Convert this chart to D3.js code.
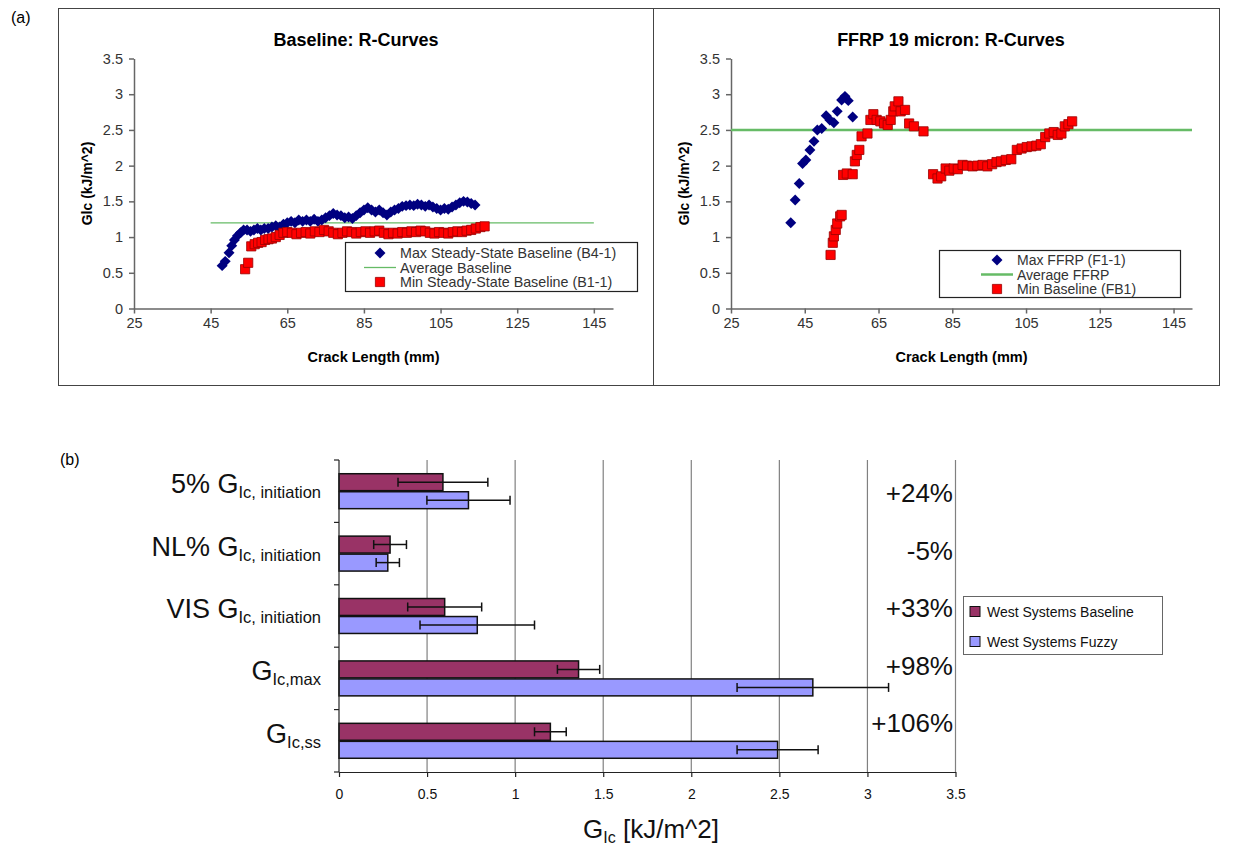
<!DOCTYPE html>
<html>
<head>
<meta charset="utf-8">
<script src="https://cdn.jsdelivr.net/npm/d3@7"></script>
<style>
  body { margin: 0; background: #fff; }
  svg text { font-family: Arial, "Liberation Sans", sans-serif; }
</style>
</head>
<body>
<div id="chart"></div>
<script>
// ---- (a) R-curve data: [crack length mm, GIc kJ/m^2] ----
const baseMax = [
  [48.0,0.60],[48.8,0.66],[49.8,0.78],[50.5,0.88],[51.2,0.96],[52.0,1.02],[52.8,1.06],[53.6,1.10],
  [54.5,1.10],[55.4,1.08],[56.3,1.10],[57.2,1.12],[58.1,1.10],[59.0,1.12],[60.0,1.12],[61.0,1.14],
  [62.0,1.16],[63.0,1.14],[64.0,1.18],[65.0,1.20],[66.0,1.22],[67.0,1.20],[68.0,1.24],[69.0,1.22],
  [70.0,1.24],[71.0,1.22],[72.0,1.25],[73.0,1.22],[74.0,1.24],[75.0,1.27],[76.0,1.30],[77.0,1.33],
  [78.0,1.31],[79.0,1.30],[80.0,1.27],[81.0,1.28],[82.0,1.26],[83.0,1.30],[84.0,1.34],[85.0,1.38],
  [86.0,1.41],[87.0,1.38],[88.0,1.35],[89.0,1.38],[90.0,1.34],[91.0,1.31],[92.0,1.35],[93.0,1.38],
  [94.0,1.40],[95.0,1.43],[96.0,1.44],[97.0,1.45],[98.0,1.44],[99.0,1.46],[100.0,1.45],[101.0,1.43],
  [102.0,1.45],[103.0,1.42],[104.0,1.40],[105.0,1.38],[106.0,1.40],[107.0,1.39],[108.0,1.42],
  [109.0,1.45],[110.0,1.48],[111.0,1.50],[112.0,1.49],[113.0,1.47],[114.0,1.45]
];
const baseMin = [
  [54.0,0.55],[54.8,0.64],[55.6,0.87],[56.5,0.90],[57.4,0.92],[58.3,0.93],[59.2,0.96],[60.1,0.97],
  [61.0,0.98],[62.0,1.00],[63.0,1.03],[64.0,1.06],[65.0,1.07],[66.2,1.06],[67.4,1.04],[68.6,1.06],
  [69.8,1.07],[71.0,1.05],[72.2,1.08],[73.4,1.07],[74.6,1.10],[75.8,1.08],[77.0,1.06],[78.2,1.04],
  [79.4,1.06],[80.6,1.08],[81.8,1.07],[83.0,1.05],[84.2,1.07],[85.4,1.08],[86.6,1.06],[87.8,1.08],
  [89.0,1.09],[90.2,1.06],[91.4,1.04],[92.6,1.06],[93.8,1.05],[95.0,1.07],[96.2,1.06],[97.4,1.08],
  [98.6,1.07],[99.8,1.09],[101.0,1.08],[102.2,1.06],[103.4,1.05],[104.6,1.07],[105.8,1.06],
  [107.0,1.05],[108.2,1.07],[109.4,1.08],[110.6,1.07],[111.8,1.09],[113.0,1.10],[114.2,1.12],
  [115.4,1.14],[116.5,1.15]
];
const baseAvg = [[45,1.2],[145,1.2]];

const ffrpMax = [
  [41.2,1.20],[42.4,1.52],[43.5,1.75],[44.4,2.03],[45.3,2.08],[46.4,2.22],[47.5,2.34],[48.4,2.50],
  [49.6,2.52],[50.8,2.70],[51.8,2.64],[52.9,2.60],[53.8,2.76],[55.0,2.92],[55.9,2.97],[56.8,2.91],
  [58.0,2.68]
];
const ffrpMin = [
  [52.0,0.75],[52.6,0.92],[52.9,1.01],[53.4,1.10],[53.8,1.19],[54.6,1.29],[55.0,1.31],
  [55.4,1.87],[56.4,1.89],[58.0,1.88],[58.6,2.06],[59.1,2.15],[59.8,2.22],[60.4,2.41],[62.0,2.45],
  [62.8,2.64],[63.6,2.72],[64.5,2.64],[65.5,2.62],[66.5,2.59],[67.5,2.57],[68.3,2.64],[69.0,2.76],
  [69.4,2.83],[70.4,2.90],[71.0,2.76],[72.2,2.78],[73.3,2.59],[74.6,2.55],[77.2,2.48],
  [79.8,1.88],[81.0,1.82],[82.0,1.85],[83.2,1.96],[84.2,1.93],[85.4,1.96],[86.5,1.95],[87.8,2.01],
  [89.0,2.00],[90.5,1.99],[91.8,2.00],[93.2,2.01],[94.5,1.99],[95.8,2.02],[97.0,2.05],[98.2,2.06],
  [99.5,2.08],[101.0,2.09],[102.5,2.22],[103.8,2.24],[105.2,2.26],[106.5,2.27],[107.8,2.28],
  [109.0,2.30],[110.2,2.40],[111.3,2.45],[112.5,2.47],[113.6,2.43],[114.6,2.45],[115.5,2.55],
  [116.5,2.58],[117.5,2.62]
];
const ffrpAvg = [[25,2.5],[150,2.5]];

const crackTicks = [25, 45, 65, 85, 105, 125, 145];
const gTicks = [0, 0.5, 1, 1.5, 2, 2.5, 3, 3.5];

// ---- (b) bar chart data ----
const catMain = ["5% G", "NL% G", "VIS G", "G", "G"];
const catSub = ["Ic, initiation", "Ic, initiation", "Ic, initiation", "Ic,max", "Ic,ss"];
const baselineVals = [0.59, 0.29, 0.60, 1.36, 1.20];
const baselineErr = [0.255, 0.093, 0.21, 0.12, 0.09];
const fuzzyVals = [0.735, 0.277, 0.785, 2.69, 2.49];
const fuzzyErr = [0.236, 0.066, 0.325, 0.43, 0.23];
const pctLabels = ["+24%", "-5%", "+33%", "+98%", "+106%"];
const barTicks = [0, 0.5, 1, 1.5, 2, 2.5, 3, 3.5];
const seriesNames = ["West Systems Baseline", "West Systems Fuzzy"];

// Colors
const navy = "#000080";
const red = "#ff0000";
const green = "#66bb66";
const maroon = "#993366";
const lavender = "#9999ff";

const svg = d3.select("#chart")
  .append("svg")
  .attr("width", 1248)
  .attr("height", 846);

// Frame of panel (a)
svg.append("rect")
  .attr("x", 58.5).attr("y", 8.5)
  .attr("width", 1161).attr("height", 377)
  .attr("fill", "none").attr("stroke", "#444");
svg.append("line")
  .attr("x1", 653.5).attr("x2", 653.5).attr("y1", 8.5).attr("y2", 385.5)
  .attr("stroke", "#444");

svg.append("text").attr("x", 11).attr("y", 23).attr("font-size", 16).text("(a)");
svg.append("text").attr("x", 60).attr("y", 465).attr("font-size", 16).text("(b)");

const diamond = d3.symbol(d3.symbolSquare, 60)();
const square = d3.symbol(d3.symbolSquare, 85)();

function styleAxis(sel) {
  sel.attr("font-family", null).attr("font-size", 14.5);
  sel.selectAll("path, line").attr("stroke", "#666").attr("stroke-width", 1.5);
  sel.selectAll("text").attr("fill", "#333");
}

function rCurve(cfg) {
  const x = d3.scaleLinear().domain([25, 150]).range(cfg.xr);
  const y = d3.scaleLinear().domain([0, 3.5]).range([308.5, 58.5]);
  const g = svg.append("g");

  g.append("g")
    .attr("transform", `translate(${cfg.xr[0]},0)`)
    .call(d3.axisLeft(y).tickValues(gTicks).tickFormat(d => d).tickSize(5).tickSizeOuter(0).tickPadding(6))
    .call(styleAxis);

  g.append("g")
    .attr("transform", "translate(0,308.5)")
    .call(d3.axisBottom(x).tickValues(crackTicks).tickFormat(d => d).tickSize(5).tickSizeOuter(0).tickPadding(4))
    .call(styleAxis);

  // Titles
  g.append("text")
    .attr("x", cfg.titleX).attr("y", 46)
    .attr("text-anchor", "middle")
    .attr("font-size", 18).attr("font-weight", "bold")
    .text(cfg.title);
  g.append("text")
    .attr("x", (cfg.xr[0] + cfg.xr[1]) / 2).attr("y", 362)
    .attr("text-anchor", "middle")
    .attr("font-size", 14.5).attr("font-weight", "bold")
    .text("Crack Length (mm)");
  g.append("text")
    .attr("transform", `translate(${cfg.xr[0] - 42},183.5) rotate(-90)`)
    .attr("text-anchor", "middle")
    .attr("font-size", 14).attr("font-weight", "bold")
    .text("Glc (kJ/m^2)");

  // Average line
  g.append("path")
    .datum(cfg.avg)
    .attr("d", d3.line().x(d => x(d[0])).y(d => y(d[1])))
    .attr("fill", "none")
    .attr("stroke", green)
    .attr("stroke-width", cfg.avgWidth);

  // Max (diamonds)
  g.selectAll(".dia")
    .data(cfg.max)
    .enter().append("path")
    .attr("d", diamond)
    .attr("transform", d => `translate(${x(d[0])},${y(d[1])}) rotate(45)`)
    .attr("fill", navy);

  // Min (squares)
  g.selectAll(".sq")
    .data(cfg.min)
    .enter().append("path")
    .attr("d", square)
    .attr("transform", d => `translate(${x(d[0])},${y(d[1])})`)
    .attr("fill", red)
    .attr("stroke", "#990000")
    .attr("stroke-width", 0.8);

  // Legend
  const L = cfg.legend;
  const lg = g.append("g");
  lg.append("rect")
    .attr("x", L.x).attr("y", L.y)
    .attr("width", L.w).attr("height", L.h)
    .attr("fill", "#fff").attr("stroke", "#222").attr("stroke-width", 1.2);
  const rows = L.rows;
  lg.append("path").attr("d", diamond)
    .attr("transform", `translate(${L.sym},${rows[0]}) rotate(45)`)
    .attr("fill", navy);
  lg.append("line")
    .attr("x1", L.sym - 16).attr("x2", L.sym + 16)
    .attr("y1", rows[1]).attr("y2", rows[1])
    .attr("stroke", green).attr("stroke-width", cfg.avgWidth);
  lg.append("path").attr("d", square)
    .attr("transform", `translate(${L.sym},${rows[2]})`)
    .attr("fill", red).attr("stroke", "#990000").attr("stroke-width", 0.8);
  L.labels.forEach((t, i) => {
    lg.append("text")
      .attr("x", L.sym + 20).attr("y", rows[i] + 5)
      .attr("font-size", L.font).attr("fill", "#333")
      .text(t);
  });
}

rCurve({
  xr: [134, 613], titleX: 356, title: "Baseline: R-Curves",
  max: baseMax, min: baseMin, avg: baseAvg, avgWidth: 1.3,
  legend: { x: 345.5, y: 242.5, w: 292, h: 49, sym: 380, rows: [253, 267.5, 282], font: 14.3,
    labels: ["Max Steady-State Baseline (B4-1)", "Average Baseline", "Min Steady-State Baseline (B1-1)"] }
});
rCurve({
  xr: [731, 1192], titleX: 951, title: "FFRP 19 micron: R-Curves",
  max: ffrpMax, min: ffrpMin, avg: ffrpAvg, avgWidth: 2.5,
  legend: { x: 939.5, y: 250.5, w: 241, h: 47, sym: 997, rows: [260, 274.5, 289], font: 14,
    labels: ["Max FFRP (F1-1)", "Average FFRP", "Min Baseline (FB1)"] }
});

// ---- (b) horizontal bar chart ----
const xB = d3.scaleLinear().domain([0, 3.5]).range([339, 955.5]);
const yB = d3.scaleBand().domain(d3.range(catMain.length)).range([460, 772])
  .paddingInner(0.44).paddingOuter(0.22);
const yS = d3.scaleBand().domain([0, 1]).range([0, yB.bandwidth()]).paddingInner(0.06);

const gb = svg.append("g");

// Grid
gb.selectAll(".grid")
  .data(barTicks.slice(1))
  .enter().append("line")
  .attr("x1", d => xB(d)).attr("x2", d => xB(d))
  .attr("y1", 460).attr("y2", 772)
  .attr("stroke", "#808080").attr("stroke-width", 1.2);

// Bars
const series = [
  { vals: baselineVals, err: baselineErr, color: maroon },
  { vals: fuzzyVals, err: fuzzyErr, color: lavender }
];
series.forEach((s, si) => {
  const rows = s.vals.map((v, i) => ({ i, v, e: s.err[i] }));
  gb.selectAll(".bar" + si)
    .data(rows)
    .enter().append("rect")
    .attr("x", xB(0))
    .attr("y", d => yB(d.i) + yS(si))
    .attr("width", d => xB(d.v) - xB(0))
    .attr("height", yS.bandwidth())
    .attr("fill", s.color)
    .attr("stroke", "#111").attr("stroke-width", 1.5);

  const eb = gb.selectAll(".err" + si)
    .data(rows)
    .enter().append("g")
    .attr("transform", d => `translate(0,${yB(d.i) + yS(si) + yS.bandwidth() / 2})`);
  eb.append("line")
    .attr("x1", d => xB(d.v - d.e)).attr("x2", d => xB(d.v + d.e))
    .attr("stroke", "#111").attr("stroke-width", 1.5);
  eb.append("line")
    .attr("x1", d => xB(d.v - d.e)).attr("x2", d => xB(d.v - d.e))
    .attr("y1", -4.5).attr("y2", 4.5)
    .attr("stroke", "#111").attr("stroke-width", 1.5);
  eb.append("line")
    .attr("x1", d => xB(d.v + d.e)).attr("x2", d => xB(d.v + d.e))
    .attr("y1", -4.5).attr("y2", 4.5)
    .attr("stroke", "#111").attr("stroke-width", 1.5);
});

// Value axis
gb.append("g")
  .attr("transform", "translate(0,772)")
  .call(d3.axisBottom(xB).tickValues(barTicks).tickFormat(d => d).tickSize(5).tickSizeOuter(0).tickPadding(12))
  .call(sel => {
    sel.attr("font-family", null).attr("font-size", 14);
    sel.selectAll("path, line").attr("stroke", "#222").attr("stroke-width", 1.2);
    sel.selectAll("text").attr("fill", "#111");
  });

// Category axis
gb.append("line")
  .attr("x1", 339).attr("x2", 339).attr("y1", 460).attr("y2", 772)
  .attr("stroke", "#222").attr("stroke-width", 1.2);
gb.selectAll(".ctick")
  .data(d3.range(catMain.length + 1))
  .enter().append("line")
  .attr("x1", 334).attr("x2", 339)
  .attr("y1", k => 460 + k * yB.step()).attr("y2", k => 460 + k * yB.step())
  .attr("stroke", "#222").attr("stroke-width", 1.2);

// Category labels with subscripts
catMain.forEach((m, i) => {
  const t = gb.append("text")
    .attr("x", 321)
    .attr("y", yB(i) + yB.bandwidth() / 2 + 2)
    .attr("text-anchor", "end")
    .attr("font-size", 27)
    .attr("fill", "#111");
  t.append("tspan").text(m);
  t.append("tspan").attr("font-size", 16.5).attr("dy", 5).text(catSub[i]);
});

// Percent change labels
const pctY = d3.scalePoint().domain(d3.range(pctLabels.length)).range([493, 723]);
gb.selectAll(".pct")
  .data(pctLabels)
  .enter().append("text")
  .attr("x", 953)
  .attr("y", (d, i) => pctY(i) + 9)
  .attr("text-anchor", "end")
  .attr("font-size", 26)
  .attr("fill", "#111")
  .text(d => d);

// Axis title
const at = gb.append("text")
  .attr("x", 651).attr("y", 838)
  .attr("text-anchor", "middle")
  .attr("font-size", 26).attr("fill", "#111");
at.append("tspan").text("G");
at.append("tspan").attr("font-size", 16).attr("dy", 5).text("Ic");
at.append("tspan").attr("dy", -5).text(" [kJ/m^2]");

// Legend
const lgB = gb.append("g");
lgB.append("rect")
  .attr("x", 963.5).attr("y", 596.5).attr("width", 199).attr("height", 58)
  .attr("fill", "#fff").attr("stroke", "#666").attr("stroke-width", 1);
seriesNames.forEach((n, i) => {
  const cy = 611.5 + i * 30;
  lgB.append("rect")
    .attr("x", 970).attr("y", cy - 5).attr("width", 10).attr("height", 10)
    .attr("fill", series[i].color).attr("stroke", "#111").attr("stroke-width", 1);
  lgB.append("text")
    .attr("x", 987).attr("y", cy + 5)
    .attr("font-size", 14).attr("fill", "#111")
    .text(n);
});
</script>
</body>
</html>
